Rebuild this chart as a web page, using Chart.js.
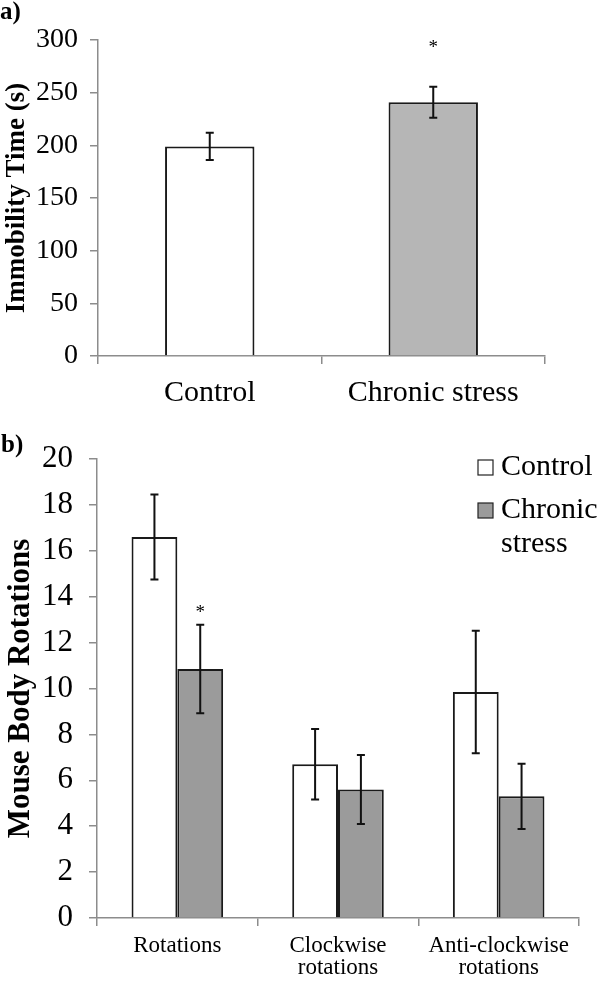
<!DOCTYPE html>
<html>
<head>
<meta charset="utf-8">
<script src="https://cdn.jsdelivr.net/npm/chart.js@4.4.1/dist/chart.umd.min.js"></script>
<style>
  html, body { margin: 0; padding: 0; background: #fff; }
  #wrap { position: relative; width: 600px; height: 981px; overflow: hidden; }
  #chartA { position: absolute; left: 0; top: 0; }
  #chartB { position: absolute; left: 0; top: 420px; }
</style>
</head>
<body>
<div id="wrap">
  <canvas id="chartA" width="600" height="420"></canvas>
  <canvas id="chartB" width="600" height="561"></canvas>
</div>
<script>
// a) immobility time
const groupsA = ['Control', 'Chronic stress'];
const immobility = [199, 241];
const immobilityErr = [13, 14.7];
const starA = [null, 296];

// b) body rotations
const categoriesB = [['Rotations'], ['Clockwise', 'rotations'], ['Anti-clockwise', 'rotations']];
const seriesB = ['Control', 'Chronic stress'];
const controlRot = [16.6, 6.7, 9.85];
const controlErr = [1.85, 1.54, 2.67];
const stressRot = [10.85, 5.6, 5.3];
const stressErr = [1.93, 1.5, 1.42];
const starStress = [13.46, null, null];

const serif = "'Liberation Serif', 'Times New Roman', serif";
const axisGray = '#8c8c8c';
const ink = '#000';

const errorBars = {
    id: 'errorBars',
    afterDatasetsDraw(chart, args, opts) {
        const { ctx } = chart;
        const y = chart.scales.y;
        ctx.save();
        ctx.strokeStyle = opts.color;
        ctx.lineWidth = opts.width;
        ctx.fillStyle = ink;
        ctx.font = `${opts.starSize}px ${serif}`;
        ctx.textAlign = 'center';
        ctx.textBaseline = 'middle';
        chart.data.datasets.forEach((ds, i) => {
            chart.getDatasetMeta(i).data.forEach((bar, j) => {
                const v = ds.data[j], e = ds.errors[j];
                const top = y.getPixelForValue(v + e);
                const bot = y.getPixelForValue(v - e);
                ctx.beginPath();
                ctx.moveTo(bar.x, top); ctx.lineTo(bar.x, bot);
                ctx.moveTo(bar.x - opts.cap, top); ctx.lineTo(bar.x + opts.cap, top);
                ctx.moveTo(bar.x - opts.cap, bot); ctx.lineTo(bar.x + opts.cap, bot);
                ctx.stroke();
                const s = ds.stars ? ds.stars[j] : null;
                if (s != null) ctx.fillText('*', bar.x, y.getPixelForValue(s) + 4);
            });
        });
        ctx.restore();
    }
};

const panelLabel = {
    id: 'panelLabel',
    afterDraw(chart, args, opts) {
        const { ctx } = chart;
        ctx.save();
        ctx.fillStyle = ink;
        ctx.font = `bold ${opts.size}px ${serif}`;
        ctx.textAlign = 'left';
        ctx.textBaseline = 'middle';
        ctx.fillText(opts.text, opts.x, opts.y);
        ctx.restore();
    }
};

// legend with wrapped labels, drawn in the top right corner
const boxLegend = {
    id: 'boxLegend',
    afterDraw(chart, args, opts) {
        const { ctx } = chart;
        ctx.save();
        ctx.font = `${opts.size}px ${serif}`;
        ctx.textBaseline = 'middle';
        ctx.textAlign = 'left';
        let top = opts.y;
        chart.data.datasets.forEach(ds => {
            ctx.fillStyle = ds.backgroundColor;
            ctx.strokeStyle = '#222';
            ctx.lineWidth = 1.2;
            ctx.fillRect(opts.x, top, opts.box, opts.box);
            ctx.strokeRect(opts.x, top, opts.box, opts.box);
            const lines = [];
            ds.label.split(' ').forEach(w => {
                const last = lines[lines.length - 1];
                if (last && ctx.measureText(last + ' ' + w).width <= opts.maxWidth) lines[lines.length - 1] = last + ' ' + w;
                else lines.push(w);
            });
            ctx.fillStyle = ink;
            lines.forEach((l, k) => ctx.fillText(l, opts.textX, top + opts.box / 2 + k * opts.lineH));
            top += opts.rowGap + (lines.length - 1) * opts.lineH;
        });
        ctx.restore();
    }
};

function axisStyle(extra) {
    return Object.assign({
        grid: { drawOnChartArea: false, drawTicks: true, tickLength: 8, color: axisGray, lineWidth: 1.5 },
        border: { color: axisGray, width: 1.5 }
    }, extra);
}

new Chart(document.getElementById('chartA'), {
    type: 'bar',
    data: {
        labels: groupsA,
        datasets: [{
            data: immobility,
            errors: immobilityErr,
            stars: starA,
            backgroundColor: ['#ffffff', '#b6b6b6'],
            borderColor: '#1a1a1a',
            borderWidth: 2,
            categoryPercentage: 0.4,
            barPercentage: 1
        }]
    },
    options: {
        responsive: false,
        animation: false,
        layout: { padding: { top: 40, right: 55, left: 0, bottom: 0 } },
        plugins: {
            legend: { display: false },
            tooltip: { enabled: false },
            errorBars: { color: '#111', width: 2, cap: 4, starSize: 19 },
            panelLabel: { text: 'a)', x: 0, y: 13, size: 25 }
        },
        scales: {
            x: axisStyle({
                ticks: { font: { family: serif, size: 30, lineHeight: 1.2 }, color: ink, padding: 11, maxRotation: 0, autoSkip: false },
                afterFit: s => { s.height = 64; }
            }),
            y: axisStyle({
                min: 0, max: 300,
                ticks: { stepSize: 50, font: { family: serif, size: 28 }, color: ink, padding: 12 },
                title: { display: true, text: 'Immobility Time (s)', color: ink, font: { family: serif, size: 27, weight: 'bold', lineHeight: 1.2 }, padding: { top: 1, bottom: 0 } },
                afterFit: s => { s.width = 98; }
            })
        }
    },
    plugins: [errorBars, panelLabel]
});

new Chart(document.getElementById('chartB'), {
    type: 'bar',
    data: {
        labels: categoriesB,
        datasets: [
            { label: seriesB[0], data: controlRot, errors: controlErr, backgroundColor: '#ffffff' },
            { label: seriesB[1], data: stressRot, errors: stressErr, stars: starStress, backgroundColor: '#9b9b9b' }
        ].map(d => Object.assign(d, { borderColor: '#1a1a1a', borderWidth: 2, categoryPercentage: 0.57, barPercentage: 1 }))
    },
    options: {
        responsive: false,
        animation: false,
        layout: { padding: { top: 39, right: 21, left: 0, bottom: 0 } },
        plugins: {
            legend: { display: false },
            tooltip: { enabled: false },
            errorBars: { color: '#111', width: 2, cap: 4, starSize: 19 },
            panelLabel: { text: 'b)', x: 1, y: 26, size: 25 },
            boxLegend: { x: 478, y: 40, box: 15, textX: 501, size: 30, lineH: 34, rowGap: 43, maxWidth: 110 }
        },
        scales: {
            x: axisStyle({
                ticks: { font: { family: serif, size: 23, lineHeight: 0.95 }, color: ink, padding: 9, maxRotation: 0, autoSkip: false },
                afterFit: s => { s.height = 63; }
            }),
            y: axisStyle({
                min: 0, max: 20,
                ticks: { stepSize: 2, font: { family: serif, size: 31 }, color: ink, padding: 16 },
                title: { display: true, text: 'Mouse Body Rotations', color: ink, font: { family: serif, size: 31, weight: 'bold', lineHeight: 1.2 }, padding: { top: 2, bottom: 0 } },
                afterFit: s => { s.width = 97; }
            })
        }
    },
    plugins: [errorBars, panelLabel, boxLegend]
});
</script>
</body>
</html>
